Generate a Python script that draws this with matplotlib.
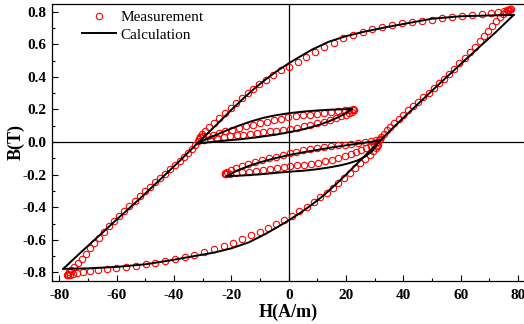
import numpy as np
import matplotlib
matplotlib.use('Agg')
import matplotlib.pyplot as plt
from matplotlib.ticker import MultipleLocator, FormatStrFormatter

plt.rcParams['font.family'] = ['Liberation Serif', 'DejaVu Serif']
plt.rcParams['axes.unicode_minus'] = False

# measured points, in the order they were taken
meas_up1_h = [77.6, 77.0, 76.2, 75.0, 73.0, 70.5, 67.5, 64.0, 60.5, 57.0, 53.5, 50.0, 46.5, 43.0, 39.6,
              36.1, 32.6, 29.2, 25.8, 22.4, 19.0, 15.7, 12.4, 9.2, 6.1, 3.1, 0.2, -2.6, -5.4, -8.0,
              -10.3, -12.3, -14.3, -16.3, -18.3, -20.3, -22.3, -24.2, -26.0, -27.7, -29.1, -30.1, -30.8, -31.2]
meas_up1_b = [0.815, 0.813, 0.810, 0.805, 0.798, 0.792, 0.786, 0.779, 0.773, 0.767, 0.759, 0.752, 0.744, 0.737, 0.729,
              0.718, 0.706, 0.692, 0.676, 0.657, 0.636, 0.611, 0.583, 0.553, 0.522, 0.492, 0.462, 0.440, 0.412, 0.384,
              0.357, 0.328, 0.299, 0.270, 0.240, 0.210, 0.180, 0.150, 0.120, 0.091, 0.066, 0.047, 0.033, 0.021]

meas_a_lo_h = [-29.5, -27.3, -25.0, -22.7, -20.4, -18.1, -15.8, -13.5, -11.2, -8.9, -6.6, -4.3, -2.0, 0.4,
               2.8, 5.2, 7.6, 10.0, 12.3, 14.5, 16.5, 18.3, 19.9, 21.1, 22.0, 22.5, 22.7]
meas_a_lo_b = [0.015, 0.020, 0.026, 0.032, 0.037, 0.041, 0.045, 0.049, 0.053, 0.059, 0.065, 0.071, 0.077, 0.082,
               0.089, 0.097, 0.105, 0.114, 0.124, 0.135, 0.146, 0.157, 0.168, 0.178, 0.187, 0.194, 0.199]

meas_a_up_h = [22.3, 21.2, 19.5, 17.3, 14.9, 12.4, 9.9, 7.4, 4.9, 2.4, -0.1, -2.6, -5.1, -7.6, -10.1,
               -12.6, -15.0, -17.4, -19.8, -22.1, -24.3, -26.4, -28.3, -29.8, -30.8]
meas_a_up_b = [0.201, 0.199, 0.195, 0.190, 0.185, 0.179, 0.174, 0.169, 0.164, 0.158, 0.151, 0.143, 0.135, 0.126, 0.117,
               0.107, 0.097, 0.087, 0.076, 0.065, 0.055, 0.046, 0.040, 0.037, 0.030]

meas_up2_h = [-31.5, -32.6, -33.8, -35.1, -36.5, -38.0, -39.6, -41.3, -43.0, -44.8, -46.6, -48.4, -50.2, -52.0,
              -53.8, -55.6, -57.4, -59.2, -61.0, -62.8, -64.6, -66.3, -67.9, -69.4, -70.9, -72.3, -73.6, -74.8,
              -75.8, -76.6, -77.1, -77.3]
meas_up2_b = [0.005, -0.018, -0.042, -0.066, -0.090, -0.115, -0.140, -0.166, -0.193, -0.220, -0.248, -0.276, -0.303, -0.332,
              -0.361, -0.390, -0.420, -0.451, -0.483, -0.517, -0.551, -0.586, -0.620, -0.653, -0.685, -0.715, -0.742, -0.766,
              -0.786, -0.800, -0.810, -0.816]

meas_lo1_h = [-77.0, -76.2, -75.2, -73.8, -71.8, -69.3, -66.5, -63.4, -60.1, -56.7, -53.3, -49.9, -46.5, -43.1, -39.7,
              -36.3, -32.9, -29.5, -26.1, -22.7, -19.4, -16.2, -13.1, -10.1, -7.2, -4.4, -1.7, 1.0, 3.7, 6.3,
              8.7, 11.0, 13.2, 15.3, 17.3, 19.3, 21.3, 23.2, 25.0, 26.7, 28.2, 29.4, 30.3, 30.9, 31.3]
meas_lo1_b = [-0.818, -0.813, -0.807, -0.802, -0.797, -0.791, -0.786, -0.781, -0.775, -0.769, -0.761, -0.751, -0.741, -0.730, -0.717,
              -0.704, -0.690, -0.675, -0.658, -0.639, -0.619, -0.597, -0.573, -0.552, -0.526, -0.500, -0.476, -0.452, -0.426, -0.398,
              -0.370, -0.340, -0.310, -0.280, -0.250, -0.220, -0.190, -0.160, -0.130, -0.102, -0.077, -0.056, -0.039, -0.027, -0.017]

meas_b_up_h = [31.8, 30.6, 28.8, 26.6, 24.3, 21.9, 19.5, 17.1, 14.7, 12.3, 9.9, 7.5, 5.1, 2.7, 0.3,
               -2.1, -4.5, -6.9, -9.3, -11.7, -14.1, -16.4, -18.5, -20.3, -21.6, -22.3]
meas_b_up_b = [0.020, 0.012, 0.006, 0.001, -0.004, -0.010, -0.015, -0.021, -0.027, -0.033, -0.039, -0.045, -0.051, -0.059, -0.068,
               -0.079, -0.090, -0.100, -0.111, -0.123, -0.135, -0.148, -0.160, -0.172, -0.181, -0.188]

meas_b_lo_h = [-22.4, -21.8, -20.5, -18.5, -16.2, -13.8, -11.4, -9.0, -6.6, -4.2, -1.8, 0.6, 3.0, 5.4,
               7.8, 10.2, 12.6, 15.0, 17.3, 19.5, 21.6, 23.6, 25.4, 27.1, 28.6, 29.9, 30.9, 31.5]
meas_b_lo_b = [-0.193, -0.195, -0.193, -0.190, -0.186, -0.181, -0.176, -0.171, -0.165, -0.158, -0.151, -0.146, -0.142, -0.138,
               -0.134, -0.127, -0.118, -0.107, -0.096, -0.085, -0.074, -0.061, -0.048, -0.035, -0.022, -0.010, 0.002, 0.012]

meas_lo2_h = [32.1, 33.1, 34.2, 35.5, 36.9, 38.4, 40.0, 41.7, 43.4, 45.2, 47.0, 48.8, 50.6, 52.4, 54.2, 56.0,
              57.8, 59.6, 61.4, 63.2, 64.9, 66.6, 68.2, 69.7, 71.1, 72.5, 73.8, 74.9, 75.9, 76.7, 77.4]
meas_lo2_b = [0.030, 0.050, 0.072, 0.095, 0.119, 0.143, 0.168, 0.194, 0.221, 0.248, 0.275, 0.303, 0.331, 0.360, 0.390, 0.420,
              0.451, 0.483, 0.516, 0.550, 0.584, 0.618, 0.651, 0.683, 0.713, 0.741, 0.766, 0.786, 0.800, 0.810, 0.815]

# calculated curves
calc_up_h = [78.5, 70, 60, 50, 42, 34, 26, 20, 14, 8, 3, 0, -4, -8, -12, -16, -20, -25, -31.9,
             -38, -45, -52, -60, -66, -72, -78.7]
calc_up_b = [0.780, 0.777, 0.772, 0.757, 0.731, 0.705, 0.676, 0.650, 0.616, 0.566, 0.515, 0.483, 0.437, 0.385,
             0.328, 0.265, 0.198, 0.110, -0.008, -0.115, -0.232, -0.348, -0.475, -0.572, -0.668, -0.778]
calc_lo_h = [-78.7, -70, -60, -50, -42, -34, -26, -20, -14, -8, -3, 0, 4, 8, 12, 16, 20, 25, 31.9,
             38, 45, 52, 60, 66, 72, 78.5]
calc_lo_b = [-0.778, -0.775, -0.766, -0.750, -0.728, -0.703, -0.678, -0.652, -0.616, -0.563, -0.512, -0.480, -0.435,
             -0.385, -0.330, -0.267, -0.200, -0.112, 0.010, 0.115, 0.232, 0.348, 0.478, 0.575, 0.670, 0.780]
calc_a_lo_h = [-31.9, -27, -22.8, -17, -11.2, -5, 0, 5, 10.3, 14, 17, 19.5, 22]
calc_a_lo_b = [-0.008, 0.0, 0.008, 0.017, 0.029, 0.044, 0.060, 0.078, 0.104, 0.127, 0.150, 0.173, 0.203]
calc_a_up_h = [22, 18, 14, 10, 5, 0, -5, -9, -13.5, -18, -22.8, -27, -31.9]
calc_a_up_b = [0.203, 0.201, 0.198, 0.194, 0.187, 0.177, 0.163, 0.148, 0.125, 0.097, 0.063, 0.032, -0.008]
calc_b_up_h = [31.9, 25, 20, 15, 10, 5, 0, -5, -10, -14, -18, -21.6]
calc_b_up_b = [0.010, -0.008, -0.020, -0.033, -0.048, -0.063, -0.080, -0.100, -0.124, -0.147, -0.175, -0.209]
calc_b_lo_h = [-21.6, -16, -10, -5, 0, 5, 9.3, 14, 18, 20.8, 24, 26.6, 29, 31.9]
calc_b_lo_b = [-0.209, -0.205, -0.198, -0.190, -0.182, -0.176, -0.168, -0.156, -0.143, -0.131, -0.113, -0.090, -0.058, 0.010]

meas_h = np.concatenate([meas_up1_h, meas_a_lo_h, meas_a_up_h, meas_up2_h,
                         meas_lo1_h, meas_b_up_h, meas_b_lo_h, meas_lo2_h])
meas_b = np.concatenate([meas_up1_b, meas_a_lo_b, meas_a_up_b, meas_up2_b,
                         meas_lo1_b, meas_b_up_b, meas_b_lo_b, meas_lo2_b])

fig = plt.figure(figsize=(5.24, 3.24), dpi=100)
ax = fig.add_axes([0.0998, 0.134, 0.9023, 0.855])

ax.axhline(0, color='k', lw=0.9, zorder=1)
ax.axvline(0, color='k', lw=0.9, zorder=1)

ax.plot(meas_h, meas_b, 'o', ls='none', ms=4.6, mfc='none', mec='red', mew=0.8,
        label='Measurement', zorder=2)
calc = [(calc_up_h, calc_up_b), (calc_lo_h, calc_lo_b), (calc_a_lo_h, calc_a_lo_b),
        (calc_a_up_h, calc_a_up_b), (calc_b_up_h, calc_b_up_b), (calc_b_lo_h, calc_b_lo_b)]
for i, (h, b) in enumerate(calc):
    ax.plot(h, b, color='k', lw=1.4, label='Calculation' if i == 0 else None, zorder=3)

ax.set_xlim(-82.5, 82.5)
ax.set_ylim(-0.85, 0.85)
ax.xaxis.set_major_locator(MultipleLocator(20))
ax.xaxis.set_minor_locator(MultipleLocator(10))
ax.yaxis.set_major_locator(MultipleLocator(0.2))
ax.yaxis.set_minor_locator(MultipleLocator(0.1))
ax.yaxis.set_major_formatter(FormatStrFormatter('%.1f'))
ax.tick_params(which='both', direction='in', top=False, right=False)
ax.tick_params(which='major', length=4, width=0.8, labelsize=11)
ax.tick_params(which='minor', length=2, width=0.8)
ax.tick_params(axis='x', which='major', pad=6)
ax.tick_params(axis='y', which='major', pad=4)
for lab in ax.get_xticklabels() + ax.get_yticklabels():
    lab.set_fontweight('bold')
for s in ax.spines.values():
    s.set_linewidth(0.9)

ax.set_xlabel('H(A/m)', fontsize=13, fontweight='bold', labelpad=1)
ax.set_ylabel('B(T)', fontsize=13, fontweight='bold', labelpad=-1.5)

ax.legend(loc='upper left', bbox_to_anchor=(0.063, 0.975), frameon=False, fontsize=11,
          numpoints=1, handlelength=2.2, handletextpad=0.3, labelspacing=0.25,
          borderpad=0, borderaxespad=0)

fig.savefig('out.png', dpi=100)
